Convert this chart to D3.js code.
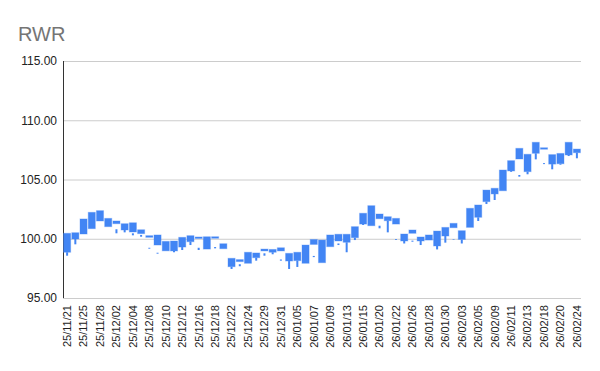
<!DOCTYPE html>
<html>
<head>
<meta charset="utf-8">
<script src="https://cdn.jsdelivr.net/npm/d3@7/dist/d3.min.js"></script>
<style>
  html, body { margin: 0; padding: 0; background: #fff; }
  svg { display: block; }
</style>
</head>
<body>
<svg id="chart" width="600" height="371"></svg>
<script>
const dates = ["25/11/21","25/11/24","25/11/25","25/11/26","25/11/28","25/12/01","25/12/02","25/12/03","25/12/04","25/12/05",
  "25/12/08","25/12/09","25/12/10","25/12/11","25/12/12","25/12/15","25/12/16","25/12/17","25/12/18","25/12/19",
  "25/12/22","25/12/23","25/12/24","25/12/26","25/12/29","25/12/30","25/12/31","26/01/02","26/01/05","26/01/06",
  "26/01/07","26/01/08","26/01/09","26/01/12","26/01/13","26/01/14","26/01/15","26/01/16","26/01/20","26/01/21",
  "26/01/22","26/01/23","26/01/26","26/01/27","26/01/28","26/01/29","26/01/30","26/02/02","26/02/03","26/02/04",
  "26/02/05","26/02/06","26/02/09","26/02/10","26/02/11","26/02/12","26/02/13","26/02/17","26/02/18","26/02/19",
  "26/02/20","26/02/23","26/02/24"];
const open = [100.46,100.51,101.67,102.23,102.37,101.72,101.50,101.27,101.35,100.76,
  100.26,100.32,99.78,99.81,100.12,100.26,100.15,100.17,100.17,99.58,
  98.35,98.24,98.86,98.80,99.13,99.10,99.24,98.77,98.86,99.47,
  99.94,99.89,100.32,100.38,100.38,101.02,102.15,102.79,102.09,101.86,
  101.72,100.40,100.74,100.15,100.32,100.65,100.96,101.30,100.68,102.57,
  102.85,104.11,104.26,105.80,106.59,107.63,107.13,108.14,107.68,107.10,
  107.20,108.14,107.57];
const close = [98.86,99.98,100.40,100.85,101.50,101.02,101.27,100.74,100.57,100.43,
  100.12,99.47,98.98,98.97,99.30,99.75,100.04,99.13,100.04,99.16,
  97.64,98.07,97.93,98.40,98.97,98.86,98.97,98.12,98.15,97.93,
  99.52,97.98,99.33,99.81,99.70,100.09,101.24,101.10,101.69,101.52,
  101.24,99.81,100.46,99.81,99.89,99.39,100.23,100.93,99.94,100.96,
  101.81,103.13,103.78,104.05,105.72,106.73,105.66,107.21,107.57,106.30,
  106.33,107.07,107.26];
const high = [98.86,99.98,100.40,100.85,101.50,101.02,100.80,100.74,100.46,100.32,
  99.24,98.82,98.98,98.97,99.30,99.75,99.24,99.13,99.30,99.16,
  97.64,97.85,97.93,98.40,98.77,98.86,98.25,98.12,98.15,97.93,
  98.55,97.98,99.33,99.60,99.70,100.09,101.24,101.10,101.10,101.52,
  99.97,99.81,99.84,99.81,99.89,99.39,100.23,99.97,99.94,100.96,
  101.81,103.13,103.78,104.05,105.72,105.38,105.66,107.21,106.38,106.30,
  106.33,107.07,107.26];
const low = [98.57,99.53,100.40,100.85,101.50,101.02,100.46,100.54,100.29,100.17,
  99.16,98.74,98.98,98.86,99.05,99.47,99.05,99.13,99.19,99.16,
  97.45,97.68,97.93,98.15,98.57,98.69,98.15,97.45,97.62,97.93,
  98.45,97.98,99.33,99.47,98.86,99.89,101.16,101.10,100.88,100.54,
  99.90,99.60,99.75,99.47,99.89,99.10,99.67,99.92,99.60,100.96,
  101.50,102.93,103.27,104.05,105.65,105.24,105.44,106.70,106.30,105.86,
  106.25,106.98,106.79];
const yTicks = [95, 100, 105, 110, 115];
const title = "RWR";

const svg = d3.select("#chart");
const margin = {left: 63, right: 19, top: 61, bottom: 73};
const W = 600, H = 371;

const x = d3.scaleBand().domain(dates).range([margin.left, W - margin.right]).paddingInner(0.14).paddingOuter(0.07);
const y = d3.scaleLinear().domain([95, 115]).range([H - margin.bottom, margin.top]);

svg.append("text").attr("x", 18).attr("y", 41).text(title)
  .attr("font-family", "Liberation Sans, Arial, sans-serif").attr("font-size", 20).attr("fill", "#757575");

// gridlines
const yAxis = d3.axisLeft(y).tickValues(yTicks).tickSize(-(W - margin.left - margin.right)).tickFormat(d3.format(".2f")).tickPadding(6);
const gy = svg.append("g").attr("transform", `translate(${margin.left},0)`).call(yAxis);
gy.select(".domain").remove();
gy.selectAll(".tick line").attr("stroke", "#cccccc").attr("stroke-width", 1);
gy.selectAll(".tick text").attr("font-family", "Liberation Sans, Arial, sans-serif").attr("font-size", 12).attr("fill", "#222").attr("x", -6);

// vertical axis line
svg.append("line").attr("x1", margin.left + 0.5).attr("x2", margin.left + 0.5)
  .attr("y1", y(115)).attr("y2", y(95)).attr("stroke", "#333").attr("stroke-width", 1);

// x axis labels
const xAxis = d3.axisBottom(x).tickValues(dates.filter((d, i) => i % 2 === 0)).tickSize(0).tickPadding(0);
const gx = svg.append("g").attr("transform", `translate(0,${y(95)})`).call(xAxis);
gx.select(".domain").remove();
gx.selectAll(".tick text")
  .attr("font-family", "Liberation Sans, Arial, sans-serif").attr("font-size", 11).attr("fill", "#222")
  .attr("transform", "rotate(-90)").attr("text-anchor", "end")
  .attr("x", -7).attr("y", 0).attr("dy", "0.35em");

const idx = d3.range(dates.length);
const bw = x.bandwidth();
const col = "#4285f4";

// wicks
svg.append("g").selectAll("rect").data(idx).join("rect")
  .attr("x", i => x(dates[i]) + bw / 2 - 1)
  .attr("width", 2)
  .attr("y", i => y(high[i]))
  .attr("height", i => Math.max(0, y(low[i]) - y(high[i])))
  .attr("fill", col);

// bodies
svg.append("g").selectAll("rect").data(idx).join("rect")
  .attr("x", i => x(dates[i]))
  .attr("width", bw)
  .attr("y", i => y(Math.max(open[i], close[i])))
  .attr("height", i => Math.max(1.5, Math.abs(y(open[i]) - y(close[i]))))
  .attr("fill", col)
  .attr("stroke", col).attr("stroke-opacity", 0.35).attr("stroke-width", 1);
</script>
</body>
</html>
